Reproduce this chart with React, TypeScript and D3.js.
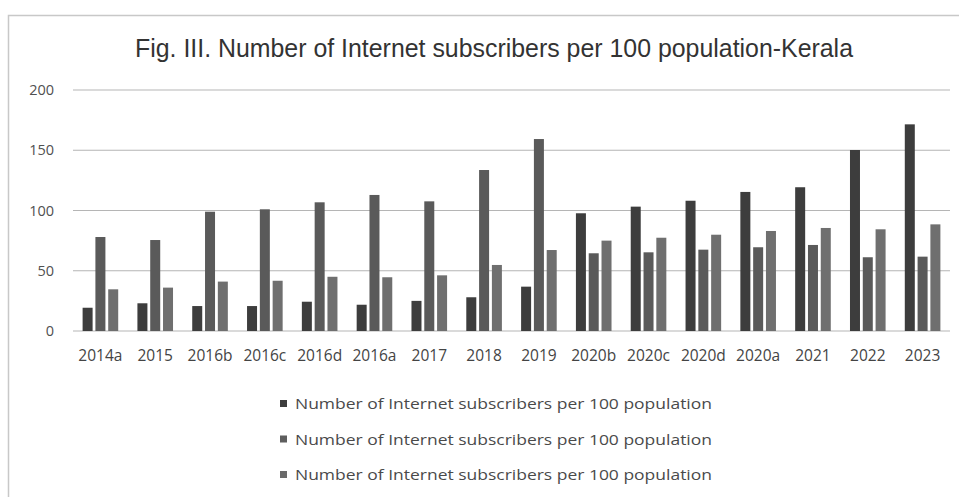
import React from "react";
import * as d3 from "d3";

const categories = ["2014a","2015","2016b","2016c","2016d","2016a","2017","2018","2019","2020b","2020c","2020d","2020a","2021","2022","2023"];
const series1 = [19.3,23,20.7,20.7,24.3,21.8,25,28,36.8,97.7,103.2,108.1,115.4,119.3,150.2,171.5];
const series2 = [78,75.5,99,101,106.8,112.9,107.6,133.6,159.3,64.5,65.3,67.5,69.5,71.4,61.2,61.7];
const series3 = [34.6,36,41,41.7,45,44.6,46.2,54.8,67.2,75,77.4,79.9,83,85.5,84.4,88.5];
const seriesNames = [
  "Number of Internet subscribers per 100 population",
  "Number of Internet subscribers per 100 population",
  "Number of Internet subscribers per 100 population",
];
const yTicks = [0, 50, 100, 150, 200];
const title = "Fig. III. Number of Internet subscribers per 100 population-Kerala";

const colors = ["#3d3d3d", "#5a5a5a", "#6f6f6f"];
const legendColors = ["#3d3d3d", "#5e5e5e", "#6a6a6a"];

export default function App() {
  const W = 959, H = 497;
  const left = 73, right = 950, top = 90, bottom = 331;
  const x = d3.scaleBand<string>().domain(categories).range([left, right]).paddingInner(0).paddingOuter(0);
  const y = d3.scaleLinear().domain([0, 200]).range([bottom, top]);
  const allSeries = [series1, series2, series3];
  const barW = 10;
  const step = 12.8;

  return (
    <svg width={W} height={H} style={{ position: "absolute", left: 0, top: 0, background: "#fff" }}>
      <rect x={0} y={0} width={W} height={H} fill="#fff" />
      <rect x={8.5} y={15.5} width={1000} height={600} fill="none" stroke="#c8c8c8" strokeWidth={1.5} />
      <text x={494} y={57} textAnchor="middle" fontFamily="Liberation Sans, Arial, sans-serif" fontSize={26} fill="#333" textLength={718} lengthAdjust="spacingAndGlyphs">{title}</text>
      {yTicks.map((t) => (
        <g key={t}>
          <line x1={left} x2={right} y1={y(t)} y2={y(t)} stroke="#b5b5b5" strokeWidth={1.2} />
          <text x={54} y={y(t) + 5} textAnchor="end" fontFamily="Open Sans, sans-serif" fontSize={14.5} fill="#505050">{t}</text>
        </g>
      ))}
      {categories.map((c, i) => {
        const cx = (x(c) as number) + x.bandwidth() / 2;
        return (
          <g key={c}>
            {allSeries.map((s, k) => (
              <rect key={k} x={cx - step + k * step - barW / 2} y={y(s[i])} width={barW} height={y(0) - y(s[i])} fill={colors[k]} />
            ))}
            <text x={cx} y={361} textAnchor="middle" fontFamily="Open Sans, sans-serif" fontSize={15.5} fill="#444">{c}</text>
          </g>
        );
      })}
      {seriesNames.map((n, k) => (
        <g key={k}>
          <rect x={280} y={400 + k * 35.5} width={7} height={7} fill={legendColors[k]} />
          <text x={295} y={409 + k * 35.5} fontFamily="Open Sans, sans-serif" fontSize={14} fill="#4a4a4a" textLength={417} lengthAdjust="spacingAndGlyphs">{n}</text>
        </g>
      ))}
    </svg>
  );
}
